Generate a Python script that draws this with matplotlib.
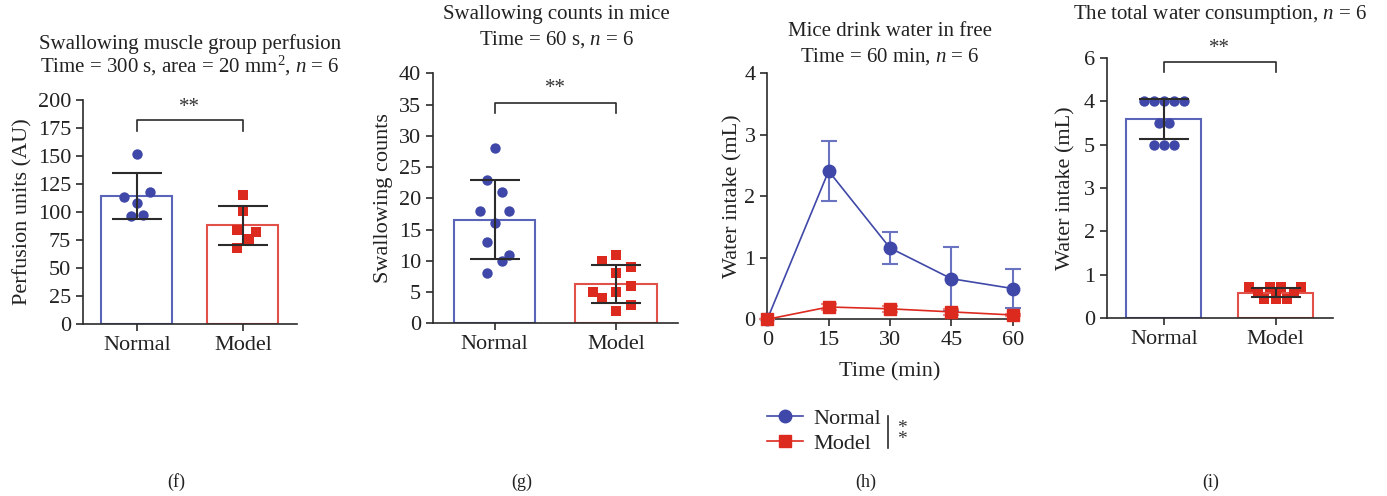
import matplotlib
matplotlib.use("Agg")
import matplotlib.pyplot as plt
from matplotlib.lines import Line2D
import numpy as np

plt.rcParams["font.family"] = ["Liberation Serif", "DejaVu Serif"]
plt.rcParams["mathtext.fontset"] = "custom"
plt.rcParams["mathtext.it"] = "Liberation Serif:italic"
plt.rcParams["mathtext.rm"] = "Liberation Serif"

BLUE = "#3f48a8"
BLUE_EDGE = "#5a64b8"
RED = "#dc2a1f"
RED_EDGE = "#e2504a"
DARK = "#2b2b2b"
TXT = "#222222"
FS = 15       # titles
LAB_FS = 16   # axis labels, category labels
TICK_FS = 16  # numeric tick labels
W, H = 1387, 496

groups = ["Normal", "Model"]

# (f) perfusion units
perf_normal = [152, 118, 113, 108, 96, 97]
perf_normal_dx = [0.0, 0.12, -0.12, 0.0, -0.06, 0.06]
perf_model = [115, 101, 84, 82, 76, 68]
perf_model_dx = [0.0, 0.0, -0.06, 0.12, 0.06, -0.06]
perf_mean = [114, 88]
perf_sd = [20.5, 17.5]

# (g) swallowing counts
swal_normal = [28, 23, 21, 18, 18, 16, 13, 11, 10, 8]
swal_normal_dx = [0.0, -0.06, 0.06, -0.12, 0.12, 0.0, -0.06, 0.12, 0.06, -0.06]
swal_model = [11, 10, 9, 8, 6, 5, 5, 4, 3, 2]
swal_model_dx = [0.0, -0.12, 0.12, 0.0, 0.12, -0.19, 0.0, -0.12, 0.12, 0.0]
swal_mean = [16.6, 6.3]
swal_sd = [6.3, 3.1]

# (h) water intake over time
time_min = [0, 15, 30, 45, 60]
drink_normal = [0.0, 2.41, 1.16, 0.66, 0.50]
drink_normal_err = [0.0, 0.49, 0.26, 0.52, 0.31]
drink_model = [0.0, 0.20, 0.17, 0.12, 0.07]
drink_model_err = [0.0, 0.05, 0.05, 0.05, 0.02]

# (i) total water consumption (plotted on the axis' tick positions)
total_normal = [5.0, 5.0, 5.0, 5.0, 5.0, 4.5, 4.5, 4.0, 4.0, 4.0]
total_normal_dx = [-0.18, -0.09, 0.0, 0.09, 0.18, -0.046, 0.046, -0.09, 0.0, 0.09]
total_model = [0.71, 0.71, 0.71, 0.71, 0.58, 0.58, 0.58, 0.45, 0.45, 0.45]
total_model_dx = [-0.24, -0.05, 0.05, 0.23, -0.16, 0.0, 0.16, -0.1, 0.0, 0.1]
total_mean = [4.59, 0.59]
total_sd = [0.46, 0.10]
total_ticklabels = ["0", "1", "2", "3", "5", "4", "6"]


def px(x, y):
    """Pixel position (from top-left) to figure fraction."""
    return x / W, 1 - y / H


def style_axes(ax):
    for side in ("top", "right"):
        ax.spines[side].set_visible(False)
    for side in ("left", "bottom"):
        ax.spines[side].set_color(DARK)
        ax.spines[side].set_linewidth(1.2)
    ax.tick_params(colors=DARK, length=5, width=1.2)
    ax.tick_params(axis="y", labelsize=TICK_FS, labelcolor=TXT)
    ax.tick_params(axis="x", labelsize=LAB_FS, labelcolor=TXT)


def bar_panel(ax, means, sds, normal, ndx, model, mdx, ylim, yticks):
    x = np.arange(2)
    ax.bar(x, means, width=0.67, color="white",
           edgecolor=[BLUE_EDGE, RED_EDGE], linewidth=1.5, zorder=1)
    ax.scatter(np.array(ndx), normal, s=56, color=BLUE, marker="o",
               zorder=3, linewidths=0)
    ax.scatter(1 + np.array(mdx), model, s=56, color=RED, marker="s",
               zorder=3, linewidths=0)
    ax.errorbar(x, means, yerr=sds, fmt="none", ecolor=DARK,
                elinewidth=1.5, capsize=18, capthick=1.5, zorder=4)
    ax.set_xlim(-0.51, 1.51)
    ax.set_ylim(*ylim)
    ax.set_yticks(yticks)
    ax.set_xticks(x)
    ax.set_xticklabels(groups)
    style_axes(ax)


def bracket(ax, y_top, y_end, y_star):
    ax.plot([0, 0, 1, 1], [y_end, y_top, y_top, y_end], color=DARK, lw=1.2)
    ax.text(0.5, y_star, "**", ha="center", va="center", fontsize=FS,
            color="#333333")


def title_lines(fig, xc, lines):
    for text, yc in lines:
        fig.text(*px(xc, yc), text, ha="center", va="center",
                 fontsize=FS, color=TXT)


fig = plt.figure(figsize=(13.87, 4.96), dpi=100)

# (f)
ax1 = fig.add_axes([0.0598, 0.3468, 0.1543, 0.4516])
bar_panel(ax1, perf_mean, perf_sd, perf_normal, perf_normal_dx,
          perf_model, perf_model_dx, (0, 200), np.arange(0, 201, 25))
bracket(ax1, 182, 172, 193)
ax1.set_ylabel("Perfusion units (AU)", fontsize=LAB_FS, color=TXT, labelpad=4)
title_lines(fig, 190, [("Swallowing muscle group perfusion", 44),
                       ("Time = 300 s, area = 20 mm$^2$, $n$ = 6", 66)])

# (g)
ax2 = fig.add_axes([0.312, 0.3482, 0.1769, 0.504])
bar_panel(ax2, swal_mean, swal_sd, swal_normal, swal_normal_dx,
          swal_model, swal_model_dx, (0, 40), np.arange(0, 41, 5))
bracket(ax2, 35.2, 33.6, 37.6)
ax2.set_ylabel("Swallowing counts", fontsize=LAB_FS, color=TXT, labelpad=4)
title_lines(fig, 556.7, [("Swallowing counts in mice", 15),
                         ("Time = 60 s, $n$ = 6", 40)])

# (h)
ax3 = fig.add_axes([0.5532, 0.3563, 0.1769, 0.496])
ax3.errorbar(time_min, drink_normal, yerr=drink_normal_err, color=BLUE,
             ecolor="#6a73c0", elinewidth=1.5, capsize=6, capthick=1.5,
             lw=1.2, marker="o", ms=9, clip_on=False, zorder=3)
ax3.errorbar(time_min, drink_model, yerr=drink_model_err, color=RED,
             ecolor="#ec8a84", elinewidth=1.5, capsize=6, capthick=1.5,
             lw=1.2, marker="s", ms=9, clip_on=False, zorder=4)
ax3.set_xlim(0, 60)
ax3.set_ylim(0, 4)
ax3.set_xticks(time_min)
ax3.set_yticks([0, 1, 2, 3, 4])
style_axes(ax3)
ax3.tick_params(axis="x", labelsize=TICK_FS)
ax3.set_xlabel("Time (min)", fontsize=LAB_FS, color=TXT, labelpad=9)
ax3.set_ylabel("Water intake (mL)", fontsize=LAB_FS, color=TXT, labelpad=1)
title_lines(fig, 890, [("Mice drink water in free", 31),
                       ("Time = 60 min, $n$ = 6", 57)])

handles = [Line2D([], [], color=BLUE, lw=1.2, marker="o", ms=9),
           Line2D([], [], color=RED, lw=1.2, marker="s", ms=9)]
leg = fig.legend(handles, groups, loc="center left",
                 bbox_to_anchor=px(767, 431),
                 frameon=False, fontsize=LAB_FS, handlelength=1.6,
                 handletextpad=0.5, labelspacing=0.2, borderaxespad=0,
                 borderpad=0)
for t in leg.get_texts():
    t.set_color(TXT)
(x0, y0), (x1, y1) = px(887.7, 416), px(887.7, 448)
fig.lines.append(Line2D([x0, x1], [y0, y1], transform=fig.transFigure,
                        color=DARK, lw=1.2))
fig.text(*px(901.7, 434), "*\n*", ha="center", va="center",
         fontsize=14, color="#333333", linespacing=0.55)

# (i)
ax4 = fig.add_axes([0.7979, 0.3583, 0.163, 0.5254])
bar_panel(ax4, total_mean, total_sd, total_normal, total_normal_dx,
          total_model, total_model_dx, (0, 6), np.arange(0, 7, 1))
ax4.set_yticklabels(total_ticklabels)
bracket(ax4, 5.91, 5.66, 6.2)
ax4.set_ylabel("Water intake (mL)", fontsize=LAB_FS, color=TXT, labelpad=6)
title_lines(fig, 1220, [("The total water consumption, $n$ = 6", 15)])

for label, xpx in zip(["(f)", "(g)", "(h)", "(i)"], [176, 522, 866, 1211]):
    fig.text(*px(xpx, 482), label, ha="center", va="center",
             fontsize=13, color=TXT)

fig.savefig("out.png", dpi=100, facecolor="white")
